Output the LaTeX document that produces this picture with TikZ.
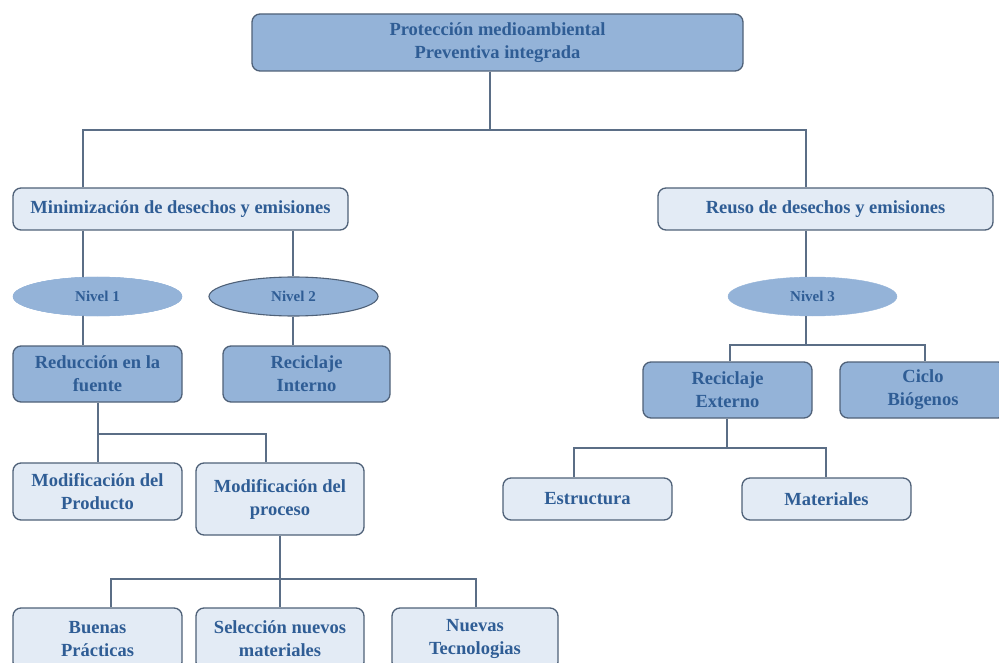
\documentclass[tikz,border=0pt]{standalone}
\usepackage{fontspec}
\setmainfont{Liberation Serif}
\usetikzlibrary{shapes.geometric}
\definecolor{darkfill}{HTML}{94B3D8}
\definecolor{lightfill}{HTML}{E3EBF5}
\definecolor{edge}{HTML}{4F6178}
\definecolor{ink}{HTML}{2F5D95}
\definecolor{wire}{HTML}{5B6E86}
\tikzset{
  box/.style={rectangle, rounded corners=8pt, draw=edge, line width=1.3pt,
    align=center, text=ink, font=\fontsize{18.5}{23}\selectfont\bfseries,
    inner sep=0pt},
  darkbox/.style={box, fill=darkfill},
  lightbox/.style={box, fill=lightfill},
  level/.style={ellipse, fill=darkfill, text=ink, inner sep=0pt,
    minimum width=169pt, minimum height=39pt,
    font=\fontsize{15}{17}\selectfont\bfseries},
  conn/.style={draw=wire, line width=1.3pt}
}
\begin{document}
\begin{tikzpicture}[x=1pt, y=-1pt]
\useasboundingbox (0,0) rectangle (999,663);
\clip (0,0) rectangle (999,663);

% root
\node[darkbox, minimum width=491pt, minimum height=57pt] (top) at (497.5,42.5)
  {Protección medioambiental\\Preventiva integrada};

% second level
\node[lightbox, minimum width=335pt, minimum height=42pt] (minim) at (180.5,209)
  {Minimización de desechos y emisiones};
\node[lightbox, minimum width=335pt, minimum height=42pt] (reuso) at (825.5,209)
  {Reuso de desechos y emisiones};

% levels
\node[level, draw=darkfill] (n1) at (97.5,296.5) {Nivel 1};
\node[level, draw=edge, line width=1.1pt] (n2) at (293.5,296.5) {Nivel 2};
\node[level, draw=darkfill] (n3) at (812.5,296.5) {Nivel 3};

% strategies
\node[darkbox, minimum width=169pt, minimum height=56pt] (red) at (97.5,374)
  {Reducción en la\\fuente};
\node[darkbox, minimum width=167pt, minimum height=56pt] (recint) at (306.5,374)
  {Reciclaje\\Interno};
\node[darkbox, minimum width=169pt, minimum height=56pt] (recext) at (727.5,390)
  {Reciclaje\\Externo};
\node[darkbox, minimum width=166pt, minimum height=56pt] (ciclo) at (923,390)
  {Ciclo\\Biógenos};

% modifications
\node[lightbox, minimum width=169pt, minimum height=57pt] (prod) at (97.5,491.5)
  {Modificación del\\Producto};
\node[lightbox, minimum width=168pt, minimum height=72pt] (proc) at (280,499)
  {Modificación del\\proceso};
\node[lightbox, minimum width=169pt, minimum height=42pt] (estr) at (587.5,499)
  {Estructura};
\node[lightbox, minimum width=169pt, minimum height=42pt] (mat) at (826.5,499)
  {Materiales};

% bottom row
\node[lightbox, minimum width=169pt, minimum height=62pt] (buenas) at (97.5,639)
  {Buenas\\Prácticas};
\node[lightbox, minimum width=168pt, minimum height=62pt] (selec) at (280,639)
  {Selección nuevos\\materiales};
\node[lightbox, minimum width=166pt, minimum height=62pt] (nuevas) at (475,639)
  {Nuevas\\Tecnologias};

% junctions
\coordinate (j0) at (490,130);
\coordinate (j1) at (98,434);
\coordinate (j2) at (280,579);
\coordinate (j3) at (806,345);
\coordinate (j4) at (727,448);

% root to second level
\draw[conn] (top.south -| j0) -- (j0);
\draw[conn] (minim.north -| 83,0) |- (j0) -| (reuso.north -| 806,0);

% minimization branch
\draw[conn] (minim.south -| 83,0) -- (red.north -| 83,0);
\draw[conn] (minim.south -| 293,0) -- (n2.north -| 293,0);
\draw[conn] (n2.south -| 293,0) -- (recint.north -| 293,0);

\draw[conn] (red.south -| j1) -- (j1) -| (proc.north -| 266,0);
\draw[conn] (j1) -- (prod.north -| j1);

\draw[conn] (proc.south) -- (j2);
\draw[conn] (buenas.north -| 111,0) |- (j2) -| (nuevas.north -| 476,0);
\draw[conn] (j2) -- (selec.north);

% reuse branch
\draw[conn] (reuso.south -| j3) -- (n3.north -| j3);
\draw[conn] (n3.south -| j3) -- (j3);
\draw[conn] (recext.north -| 730,0) |- (j3) -| (ciclo.north -| 925,0);

\draw[conn] (recext.south -| j4) -- (j4);
\draw[conn] (estr.north -| 574,0) |- (j4) -| (mat.north -| 826,0);

% first level ellipse sits on top of its through-line
\node[level, draw=darkfill] at (n1) {Nivel 1};
\end{tikzpicture}
\end{document}
